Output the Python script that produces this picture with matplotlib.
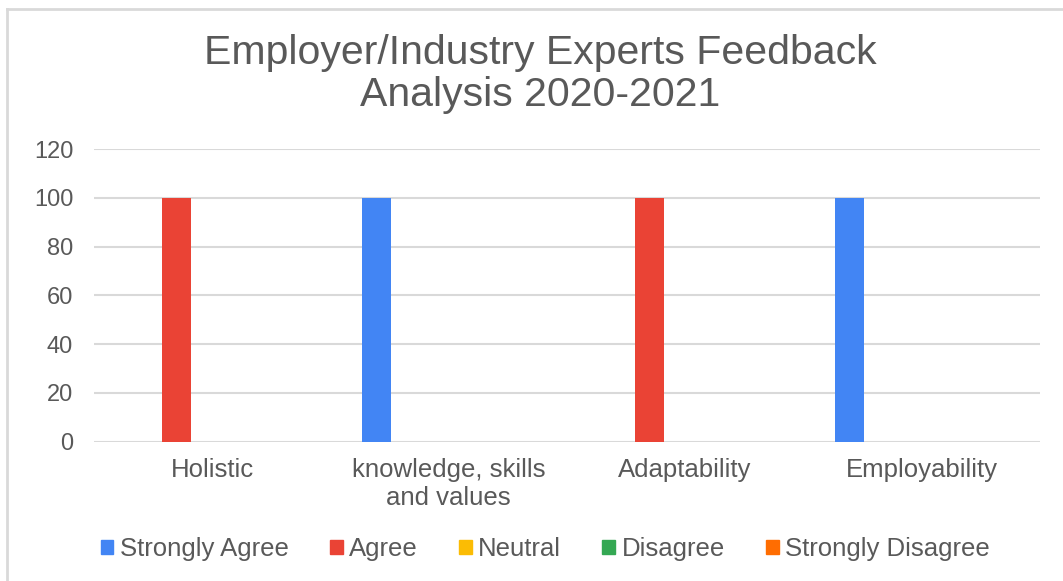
import numpy as np
import matplotlib.pyplot as plt
from matplotlib.patches import Patch
from matplotlib.lines import Line2D

categories = ["Holistic", "knowledge, skills\nand values", "Adaptability", "Employability"]
series = ["Strongly Agree", "Agree", "Neutral", "Disagree", "Strongly Disagree"]
strongly_agree = [0, 100, 0, 100]
agree = [100, 0, 100, 0]
neutral = [0, 0, 0, 0]
disagree = [0, 0, 0, 0]
strongly_disagree = [0, 0, 0, 0]
colors = ["#4285F4", "#EA4335", "#FBBC04", "#34A853", "#FF6D01"]
yticks = [0, 20, 40, 60, 80, 100, 120]

plt.rcParams['font.family'] = ['Liberation Sans', 'DejaVu Sans']
text_col = "#595959"
grid_col = "#d9d9d9"

fig = plt.figure(figsize=(10.63, 5.81), dpi=100)
ax = fig.add_axes([0.0884, 0.2398, 0.8896, 0.5037])

values = [strongly_agree, agree, neutral, disagree, strongly_disagree]
x = np.arange(len(categories))
step = 0.152
width = 0.123
for i, (name, vals) in enumerate(zip(series, values)):
    ax.bar(x + (i - 2) * step, vals, width, color=colors[i], label=name, zorder=3)

ax.set_xlim(-0.5, len(categories) - 0.5)
ax.set_ylim(0, 120)
ax.set_yticks(yticks)
ax.yaxis.grid(True, color=grid_col, linewidth=1.5, zorder=0)
for s in ax.spines.values():
    s.set_visible(False)
ax.tick_params(length=0)
ax.tick_params(axis='y', labelsize=17, labelcolor=text_col, pad=15)
ax.set_xticks(x)
ax.set_xticklabels(categories, fontsize=18.5, color=text_col, linespacing=1.2)
ax.tick_params(axis='x', pad=12)

fig.text(0.508, 0.873, "Employer/Industry Experts Feedback\nAnalysis 2020-2021",
         ha='center', va='center', fontsize=29.5, color=text_col, linespacing=1.15)

handles = [Patch(color=c) for c in colors]
fig.legend(handles, series, loc='center', bbox_to_anchor=(0.513, 0.055), ncol=5,
           frameon=False, fontsize=18.5, handlelength=0.5, handleheight=0.5,
           handletextpad=0.25, columnspacing=1.6, labelcolor=text_col)

# chart border (top and left edges)
fig.add_artist(Line2D([0.0066, 0.0066], [0, 0.985], transform=fig.transFigure, color=grid_col, lw=2))
fig.add_artist(Line2D([0.0066, 1], [0.985, 0.985], transform=fig.transFigure, color=grid_col, lw=2))

fig.savefig("out.png", dpi=100)
